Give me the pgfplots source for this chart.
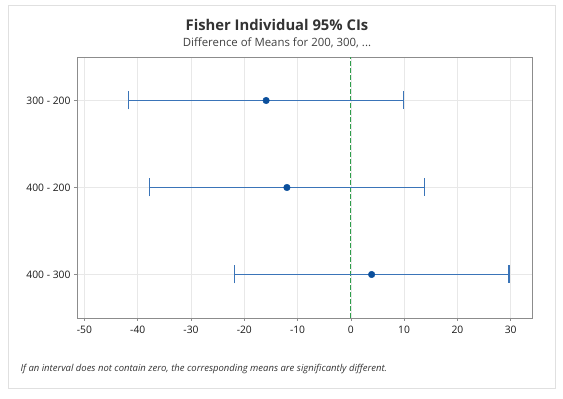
\documentclass[border=0pt]{standalone}
\usepackage{pgfplots}
\pgfplotsset{compat=1.18}
\usepackage{fontspec}
\setmainfont{Open Sans}
\definecolor{cibar}{HTML}{3A74B8}
\definecolor{ptblue}{HTML}{0B4F9C}
\definecolor{zeroline}{HTML}{2E9E4A}
\definecolor{framegray}{HTML}{8C8C8C}
\definecolor{gridgray}{HTML}{E8E8E8}
\begin{document}
\begin{tikzpicture}[x=1pt,y=1pt]
\useasboundingbox (0,0) rectangle (563,399);
\draw[black!12, line width=0.8pt] (8,11) rectangle (555,394);
\node[font=\fontsize{14.8}{17}\selectfont\bfseries, text=black!80] at (277,374) {Fisher Individual 95\% CIs};
\node[font=\fontsize{11.4}{13}\selectfont, text=black!75] at (277,356) {Difference of Means for 200, 300, ...};
\node[anchor=west, font=\fontsize{9.5}{11}\selectfont\itshape, text=black!80] at (17,30) {If an interval does not contain zero, the corresponding means are significantly different.};
\begin{axis}[
  at={(77pt,81pt)}, anchor=south west,
  scale only axis, width=455pt, height=261pt,
  xmin=-51.4, xmax=34, ymin=0.5, ymax=3.5,
  xtick={-50,-40,...,30},
  ytick={1,2,3},
  yticklabels={400 - 300, 400 - 200, 300 - 200},
  grid=major,
  grid style={gridgray, line width=0.7pt},
  axis line style={framegray, line width=0.8pt},
  tick style={framegray, line width=0.6pt},
  tick align=outside, tick pos=left,
  major tick length=3pt,
  ticklabel style={font=\fontsize{10.3}{12}\selectfont, text=black!90},
  /pgf/number format/assume math mode=true,
  xticklabel style={yshift=-1pt},
  clip=false,
]
\addplot[zeroline, line width=0.8pt, dash pattern=on 4.5pt off 2.5pt] coordinates {(0,0.5) (0,3.5)};
\addplot[only marks, mark=*, mark size=3.3pt, mark options={fill=ptblue, draw=ptblue},
  error bars/.cd, x dir=both, x explicit,
  error bar style={cibar, line width=1.2pt},
  error mark=|, error mark options={cibar, mark size=9pt, line width=1.2pt}]
  coordinates {
  (3.9,1) +- (25.8,0)
  (-12.0,2) +- (25.85,0)
  (-15.9,3) +- (25.8,0)
  };
\end{axis}
\end{tikzpicture}
\end{document}
